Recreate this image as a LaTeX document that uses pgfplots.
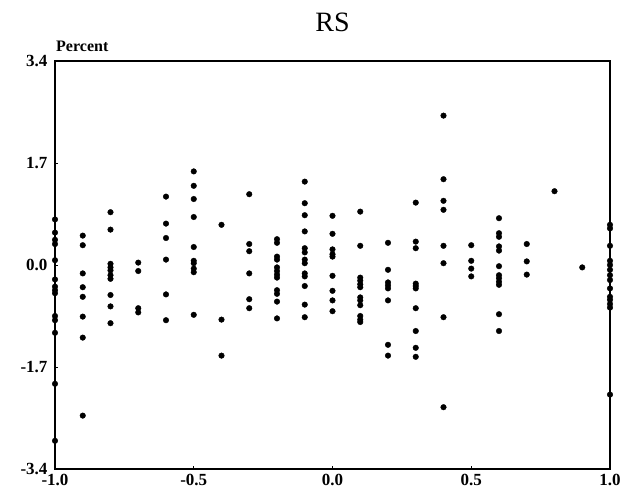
\documentclass[border=0pt]{standalone}
\usepackage{pgfplots}
\pgfplotsset{compat=1.18}
\usepackage{pgfplotstable}
\usepackage{fontspec}
\setmainfont{Liberation Serif}
\pgfplotstableread{
x y
-1.0 0.76
-1.0 0.54
-1.0 0.42
-1.0 0.35
-1.0 0.08
-1.0 -0.24
-1.0 -0.36
-1.0 -0.42
-1.0 -0.47
-1.0 -0.85
-1.0 -0.92
-1.0 -1.13
-1.0 -1.98
-1.0 -2.93
-0.9 0.49
-0.9 0.33
-0.9 -0.14
-0.9 -0.37
-0.9 -0.53
-0.9 -0.86
-0.9 -1.21
-0.9 -2.51
-0.8 0.88
-0.8 0.59
-0.8 0.02
-0.8 -0.04
-0.8 -0.09
-0.8 -0.17
-0.8 -0.23
-0.8 -0.50
-0.8 -0.69
-0.8 -0.97
-0.7 0.04
-0.7 -0.10
-0.7 -0.72
-0.7 -0.79
-0.6 1.14
-0.6 0.69
-0.6 0.45
-0.6 0.09
-0.6 -0.49
-0.6 -0.92
-0.5 1.56
-0.5 1.32
-0.5 1.10
-0.5 0.80
-0.5 0.30
-0.5 0.07
-0.5 0.03
-0.5 -0.06
-0.5 -0.12
-0.5 -0.83
-0.4 0.67
-0.4 -0.91
-0.4 -1.51
-0.3 1.18
-0.3 0.35
-0.3 0.23
-0.3 -0.14
-0.3 -0.57
-0.3 -0.72
-0.2 0.43
-0.2 0.37
-0.2 0.14
-0.2 0.09
-0.2 -0.04
-0.2 -0.10
-0.2 -0.16
-0.2 -0.21
-0.2 -0.42
-0.2 -0.48
-0.2 -0.61
-0.2 -0.89
-0.1 1.39
-0.1 1.03
-0.1 0.83
-0.1 0.56
-0.1 0.28
-0.1 0.21
-0.1 0.09
-0.1 0.03
-0.1 -0.14
-0.1 -0.19
-0.1 -0.35
-0.1 -0.66
-0.1 -0.87
0.0 0.82
0.0 0.52
0.0 0.26
0.0 0.18
0.0 0.14
0.0 -0.18
0.0 -0.43
0.0 -0.59
0.0 -0.77
0.1 0.89
0.1 0.32
0.1 -0.21
0.1 -0.26
0.1 -0.32
0.1 -0.37
0.1 -0.54
0.1 -0.59
0.1 -0.67
0.1 -0.85
0.1 -0.91
0.1 -0.95
0.2 0.37
0.2 -0.08
0.2 -0.29
0.2 -0.34
0.2 -0.39
0.2 -0.59
0.2 -1.33
0.2 -1.51
0.3 1.04
0.3 0.39
0.3 0.28
0.3 -0.31
0.3 -0.35
0.3 -0.39
0.3 -0.72
0.3 -1.10
0.3 -1.38
0.3 -1.53
0.4 2.49
0.4 1.43
0.4 1.07
0.4 0.92
0.4 0.32
0.4 0.03
0.4 -0.87
0.4 -2.37
0.5 0.33
0.5 0.07
0.5 -0.06
0.5 -0.19
0.6 0.78
0.6 0.53
0.6 0.47
0.6 0.31
0.6 0.24
0.6 -0.02
0.6 -0.17
0.6 -0.22
0.6 -0.28
0.6 -0.33
0.6 -0.82
0.6 -1.10
0.7 0.35
0.7 0.06
0.7 -0.16
0.8 1.23
0.9 -0.04
1.0 0.67
1.0 0.61
1.0 0.32
1.0 0.07
1.0 0.00
1.0 -0.08
1.0 -0.17
1.0 -0.25
1.0 -0.39
1.0 -0.53
1.0 -0.58
1.0 -0.65
1.0 -0.71
1.0 -2.16
}\rsdata
\begin{document}
\begin{tikzpicture}
\useasboundingbox (-55pt,-27pt) rectangle (587pt,469pt);
\begin{axis}[
  at={(0,0)}, anchor=south west,
  scale only axis, width=555pt, height=408pt,
  xmin=-1, xmax=1, ymin=-3.4, ymax=3.4,
  xtick={-1,-0.5,0,0.5,1},
  xticklabels={-1.0,-0.5,0.0,0.5,1.0},
  ytick={-3.4,-1.7,0,1.7,3.4},
  yticklabels={-3.4,-1.7,0.0,1.7,3.4},
  tick align=inside, major tick length=3pt,
  tick style={black, line width=0.6pt},
  xtick pos=bottom, ytick pos=left,
  axis line style={line width=1.6pt},
  tick label style={font=\fontsize{17}{19}\selectfont\bfseries},
  xticklabel style={yshift=-1.5pt},
  yticklabel style={xshift=-4pt},
  clip=false,
]
\addplot[only marks, mark=*, mark size=2.8pt, black] table {\rsdata};
\node[font=\fontsize{28}{30}\selectfont, anchor=center] at (rel axis cs:0.5,1) [yshift=39pt] {RS};
\node[font=\fontsize{16}{18}\selectfont\bfseries, anchor=base west, inner sep=0pt] at (rel axis cs:0,1) [yshift=10pt, xshift=1pt] {Percent};
\end{axis}
\end{tikzpicture}
\end{document}
